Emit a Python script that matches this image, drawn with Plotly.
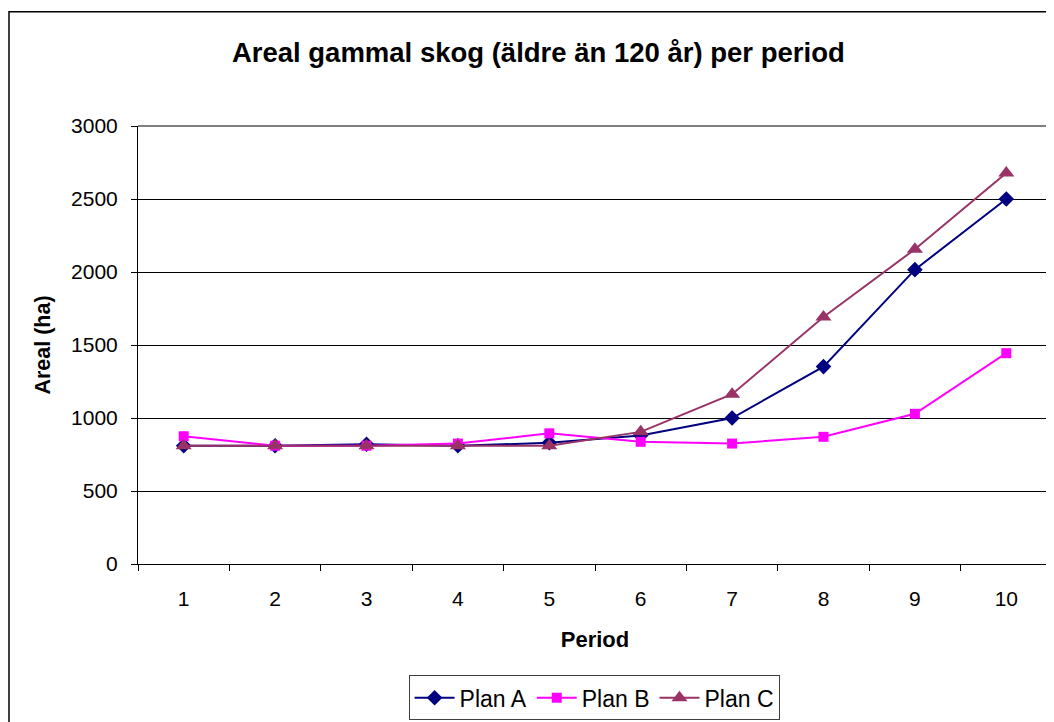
import plotly.graph_objects as go

periods = ["1", "2", "3", "4", "5", "6", "7", "8", "9", "10"]
plan_a = [810, 810, 820, 810, 830, 880, 1000, 1352, 2016, 2500]
plan_b = [875, 810, 810, 825, 895, 837, 825, 871, 1029, 1444]
plan_c = [810, 810, 810, 810, 810, 905, 1163, 1692, 2156, 2678]

series = [
    ("Plan A", plan_a, "#000080", "diamond", 12),
    ("Plan B", plan_b, "#FF00FF", "square", 10),
    ("Plan C", plan_c, "#993366", "triangle-up", 14),
]

FONT = "Liberation Sans, Arial, sans-serif"

fig = go.Figure()
for name, vals, color, symbol, size in series:
    fig.add_trace(go.Scatter(
        x=periods,
        y=vals,
        mode="lines+markers",
        name=name,
        line=dict(color=color, width=2),
        marker=dict(symbol=symbol, size=size, color=color),
    ))

# page body has an 8px margin, so the figure is a bit smaller than the window
fig.update_layout(
    width=1046,
    height=714,
    margin=dict(l=130, r=2, t=118, b=155),
    paper_bgcolor="white",
    plot_bgcolor="white",
    font=dict(family=FONT, size=21, color="black"),
    title=dict(
        text="<b>Areal gammal skog (äldre än 120 år) per period</b>",
        x=0.507, xanchor="center", y=0.938, yanchor="middle",
        font=dict(size=27.5, family=FONT, color="black"),
    ),
    showlegend=True,
    legend=dict(
        orientation="h",
        x=0.499, xanchor="center",
        y=-0.254, yanchor="top",
        bordercolor="#404040", borderwidth=1,
        font=dict(size=23, family=FONT),
        itemwidth=40,
        tracegroupgap=0,
    ),
)

fig.update_xaxes(
    type="category",
    range=[-0.5, 9.5],
    showgrid=False,
    showline=True, linecolor="black", linewidth=1,
    ticks="outside", ticklen=6, tickcolor="black",
    tickson="boundaries",
    ticklabelstandoff=16,
    title=dict(text="<b>Period</b>", font=dict(size=22), standoff=22),
)
fig.update_yaxes(
    range=[0, 3000],
    tickvals=[0, 500, 1000, 1500, 2000, 2500, 3000],
    showgrid=True, gridcolor="black", gridwidth=1,
    showline=True, linecolor="black", linewidth=1,
    ticks="outside", ticklen=6, tickcolor="black",
    ticklabelstandoff=9,
    zeroline=False,
    title=dict(text="<b>Areal (ha)</b>", font=dict(size=21.5), standoff=14),
)

# gray plot-area border on top and right, outer chart frame
fig.add_shape(type="line", xref="paper", yref="paper", x0=0, x1=1, y0=1, y1=1,
              line=dict(color="#808080", width=2))
fig.add_shape(type="line", xref="paper", yref="paper", x0=1, x1=1, y0=0, y1=1,
              line=dict(color="#808080", width=2))
fig.add_shape(type="rect", xref="paper", yref="paper",
              x0=(1 - 130) / 914, x1=1.01, y0=(559 - 3) / 441, y1=-0.4,
              line=dict(color="black", width=1.5), layer="below")

fig.write_html("out.html")
